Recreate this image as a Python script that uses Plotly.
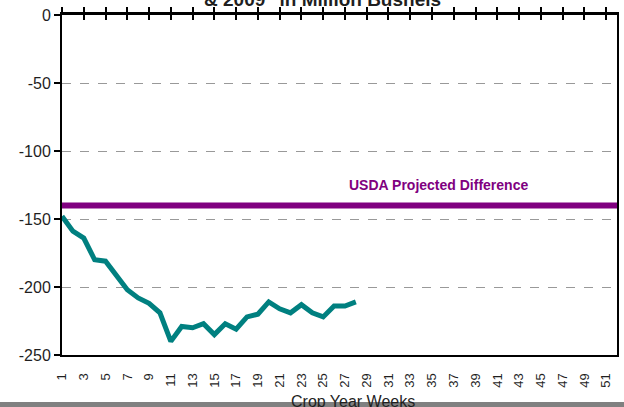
import plotly.graph_objects as go

weeks = list(range(1, 53))
tick_weeks = weeks[::2]
tick_labels = [str(w) for w in tick_weeks]
diff_weeks = list(range(1, 29))
diff_values = [-148, -159, -164, -180, -181, -192, -202, -208, -212, -219,
               -240, -229, -230, -227, -235, -227, -231, -222, -220, -211,
               -216, -219, -213, -219, -222, -214, -214, -211]
usda_projected = -140
usda_label = "USDA Projected Difference"
title_text = "&amp; 2009\" in Million Bushels"
x_title = "Crop Year Weeks"
y_ticks = [0, -50, -100, -150, -200, -250]
y_tick_labels = ["0", "-50", "-100", "-150", "-200", "-250"]

FONT = "Liberation Sans, Arial, sans-serif"

W, H = 624, 407
ML, MR, MT, MB = 62, 7, 15, 52
PH = H - MT - MB  # 340

fig = go.Figure()
fig.add_trace(go.Scatter(x=[weeks[0], weeks[-1]], y=[usda_projected, usda_projected],
                         mode="lines", line=dict(color="#800080", width=6),
                         hoverinfo="skip", showlegend=False))
fig.add_trace(go.Scatter(x=diff_weeks, y=diff_values, mode="lines",
                         line=dict(color="#008080", width=5), showlegend=False))
# helper traces for the top crossing-tick axes
fig.add_trace(go.Scatter(x=[None], y=[None], xaxis="x2", showlegend=False, hoverinfo="skip"))
fig.add_trace(go.Scatter(x=[None], y=[None], xaxis="x3", showlegend=False, hoverinfo="skip"))

xr = [weeks[0], weeks[-1]]
fig.update_layout(
    width=W, height=H,
    margin=dict(l=ML, r=MR, t=MT, b=MB, autoexpand=False),
    paper_bgcolor="white", plot_bgcolor="white",
    font=dict(family=FONT, color="#1f1f1f"),
    xaxis=dict(range=xr, tickmode="array", tickvals=tick_weeks, ticktext=tick_labels,
               tickangle=-90, ticks="outside", ticklen=11, tickcolor="rgba(0,0,0,0)",
               showgrid=False, zeroline=False, automargin=False,
               showline=True, linecolor="black", linewidth=2,
               ticklabeloverflow="allow",
               tickfont=dict(size=13, color="#1f1f1f")),
    xaxis2=dict(range=xr, overlaying="x", side="top", anchor="y", tickmode="array",
                tickvals=tick_weeks, ticks="outside", ticklen=5, tickwidth=2,
                tickcolor="black", showticklabels=False, showgrid=False, zeroline=False,
                showline=True, linecolor="black", linewidth=2.5, automargin=False),
    xaxis3=dict(range=xr, overlaying="x", side="top", anchor="y", tickmode="array",
                tickvals=tick_weeks, ticks="inside", ticklen=5, tickwidth=2,
                tickcolor="black", showticklabels=False, showgrid=False, zeroline=False,
                showline=False, automargin=False),
    yaxis=dict(range=[-250, 0], tickmode="array", tickvals=y_ticks, ticktext=y_tick_labels,
               ticks="outside", ticklen=6, tickwidth=1.5, tickcolor="black",
               showline=True, linecolor="black", linewidth=2, mirror=True,
               showgrid=True, gridcolor="#999999", griddash="dash", gridwidth=1,
               zeroline=False, tickfont=dict(size=16, color="#1f1f1f"),
               ticklabeloverflow="allow", automargin=False),
    shapes=[dict(type="rect", xref="paper", yref="paper", x0=-0.2, x1=1.1,
                 y0=-47 / PH, y1=-0.3, fillcolor="#808080",
                 line=dict(width=0), layer="above")],
    annotations=[
        dict(text=usda_label, x=35.6, y=-125, xref="x", yref="y", showarrow=False,
             font=dict(size=14, color="#800080", family=FONT, weight="bold")),
        dict(text=title_text, x=0.469, y=1 + 15 / PH, xref="paper", yref="paper",
             showarrow=False, yanchor="middle",
             font=dict(size=19, color="#1f1f1f", family=FONT, weight="bold")),
        dict(text=x_title, x=0.524, y=-46 / PH, xref="paper", yref="paper",
             showarrow=False, yanchor="middle",
             font=dict(size=16, color="#1f1f1f", family=FONT)),
    ],
)

# remove the browser's default 8px page margin so the figure sits at the window origin
fig.write_html("out.html", config={"displayModeBar": False},
               post_script="document.body.style.margin='0';")
